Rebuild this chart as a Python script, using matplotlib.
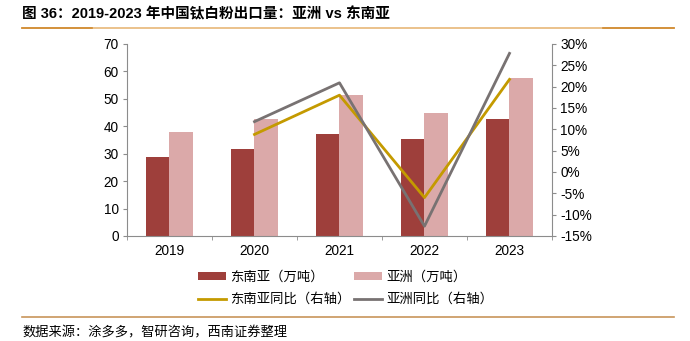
import numpy as np
import matplotlib.pyplot as plt
from matplotlib.ticker import FuncFormatter
from matplotlib.lines import Line2D

plt.rcParams['font.family'] = ['Liberation Sans', 'Noto Sans CJK SC', 'DejaVu Sans']

# 数据
years = ['2019', '2020', '2021', '2022', '2023']
sea_vol = [28.9, 31.6, 37.2, 35.2, 42.5]      # 东南亚（万吨）
asia_vol = [38.0, 42.5, 51.4, 44.9, 57.5]     # 亚洲（万吨）
sea_yoy = [None, 8.8, 18.0, -6.0, 21.7]       # 东南亚同比 %
asia_yoy = [None, 11.8, 20.9, -12.7, 27.8]    # 亚洲同比 %

c_dark = '#9E3F3B'
c_light = '#DBA9A9'
c_gold = '#C49A00'
c_gray = '#787272'
c_axis = '#8C8C8C'

fig = plt.figure(figsize=(6.9, 3.41), dpi=100)
ax = fig.add_axes([0.184, 0.308, 0.616, 0.563])
ax2 = ax.twinx()

x = np.arange(len(years))
w = 0.28
ax.bar(x - w / 2, sea_vol, w, color=c_dark, label='东南亚（万吨）', zorder=2)
ax.bar(x + w / 2, asia_vol, w, color=c_light, label='亚洲（万吨）', zorder=2)

xs = x[1:]
ax2.plot(xs, sea_yoy[1:], color=c_gold, lw=2.0, label='东南亚同比（右轴）')
ax2.plot(xs, asia_yoy[1:], color=c_gray, lw=2.0, label='亚洲同比（右轴）')

ax.set_xlim(-0.5, 4.5)
ax.set_ylim(0, 70)
ax.set_yticks(range(0, 71, 10))
ax2.set_ylim(-15, 30)
ax2.set_yticks(range(-15, 31, 5))
ax2.yaxis.set_major_formatter(FuncFormatter(lambda v, p: '%d%%' % v))

ax.set_xticks(x)
ax.set_xticklabels(years)
ax.set_xticks(np.arange(-0.5, 5, 1), minor=True)
ax.tick_params(axis='x', which='major', length=0, pad=6, labelsize=9.8)
ax.tick_params(axis='x', which='minor', length=3, color=c_axis)
ax.tick_params(axis='y', length=3, color=c_axis, labelsize=9.8, pad=3)
ax2.tick_params(axis='y', length=3, color=c_axis, labelsize=9.8, pad=3)

for a in (ax, ax2):
    for s in a.spines.values():
        s.set_visible(False)
ax.spines['left'].set_visible(True)
ax.spines['bottom'].set_visible(True)
ax2.spines['right'].set_visible(True)
ax.spines['left'].set_color(c_axis)
ax.spines['bottom'].set_color(c_axis)
ax2.spines['right'].set_color(c_axis)
ax2.set_zorder(ax.get_zorder() + 1)

# 图例
h1, l1 = ax.get_legend_handles_labels()
h2, l2 = ax2.get_legend_handles_labels()
handles = [h1[0], h2[0], h1[1], h2[1]]
labels = [l1[0], l2[0], l1[1], l2[1]]
fig.legend(handles, labels, ncol=2, loc='upper left', bbox_to_anchor=(0.272, 0.24),
           frameon=False, handlelength=2.1, handleheight=0.55,
           handletextpad=0.3, columnspacing=0.25, labelspacing=0.62,
           borderpad=0.3, prop={'family': ['Noto Sans CJK SC'], 'size': 9.6})

# 标题与注释
fig.text(0.032, 0.958, '图 36：2019-2023 年中国钛白粉出口量：亚洲 vs 东南亚',
         fontsize=10.5, fontweight='bold', va='center', ha='left',
         family=['Liberation Sans', 'Noto Sans CJK SC'])
fig.add_artist(Line2D([0.032, 0.977], [0.918, 0.918], color='#E8B878', lw=1.2))
fig.add_artist(Line2D([0.032, 0.133], [0.918, 0.918], color='#D08A30', lw=1.2))
fig.add_artist(Line2D([0.874, 0.977], [0.918, 0.918], color='#D08A30', lw=1.2))
fig.add_artist(Line2D([0.032, 0.977], [0.07, 0.07], color='#C8955A', lw=1.2))
fig.text(0.032, 0.022, '数据来源：涂多多，智研咨询，西南证券整理', fontsize=9.5,
         style='italic', va='center', ha='left', family=['Noto Sans CJK SC'])

fig.savefig('out.png', dpi=100)
